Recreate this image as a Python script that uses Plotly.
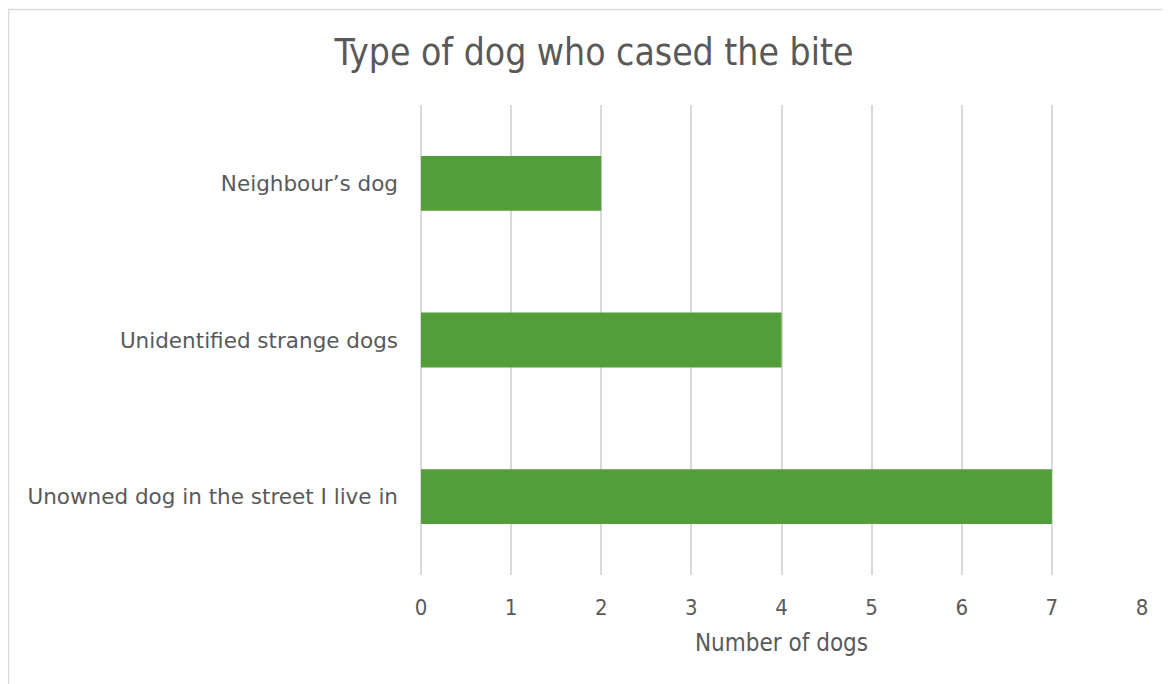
import plotly.graph_objects as go

categories = ["Unowned dog in the street I live in", "Unidentified strange dogs", "Neighbour\u2019s dog"]
values = [7, 4, 2]
x_ticks = [0, 1, 2, 3, 4, 5, 6, 7, 8]

# page body has an 8px margin; figure coords are offset by 8px
OFF = 8
W, H = 1170 - OFF, 684 - OFF
L, R, T, B = 421 - OFF, 28, 105 - OFF, 109
pw, ph = W - L - R, H - T - B

def px_x(p):
    return (p - OFF - L) / pw

def px_y(p):
    return (H - B - (p - OFF)) / ph

fig = go.Figure()
fig.add_trace(go.Bar(
    y=categories, x=values, orientation="h",
    marker=dict(color="#529E3A", line=dict(width=0)),
    width=0.35,
))

fig.update_layout(
    width=W, height=H,
    margin=dict(l=L, r=R, t=T, b=B),
    paper_bgcolor="white", plot_bgcolor="white",
    font=dict(family="DejaVu Sans", color="#595959"),
    showlegend=False,
    title=dict(text="Type of dog who cased the bite", x=(594 - OFF) / W, xanchor="center",
               y=1 - (52 - OFF) / H, yanchor="middle",
               font=dict(size=37, color="#595959", family="DejaVu Sans Condensed")),
    xaxis=dict(range=[0, 8], tickvals=x_ticks, showgrid=True, gridcolor="#D9D9D9", gridwidth=1.5,
               zeroline=True, zerolinecolor="#D9D9D9", zerolinewidth=1.5, showline=False,
               ticks="", tickfont=dict(size=22, color="#595959", family="DejaVu Sans Condensed"),
               ticklabelstandoff=17,
               title=dict(text="Number of dogs",
                          font=dict(size=24, color="#595959", family="DejaVu Sans Condensed"),
                          standoff=15)),
    yaxis=dict(showgrid=False, zeroline=False, showline=False, ticks="",
               tickfont=dict(size=21.5, color="#595959", family="DejaVu Sans"), ticklabelstandoff=22),
    shapes=[dict(type="rect", xref="paper", yref="paper",
                 x0=px_x(8.5), x1=px_x(1168), y0=px_y(720), y1=px_y(9.5),
                 line=dict(color="#D9D9D9", width=1.5), fillcolor="rgba(0,0,0,0)", layer="below")],
)

fig.write_html("out.html")
